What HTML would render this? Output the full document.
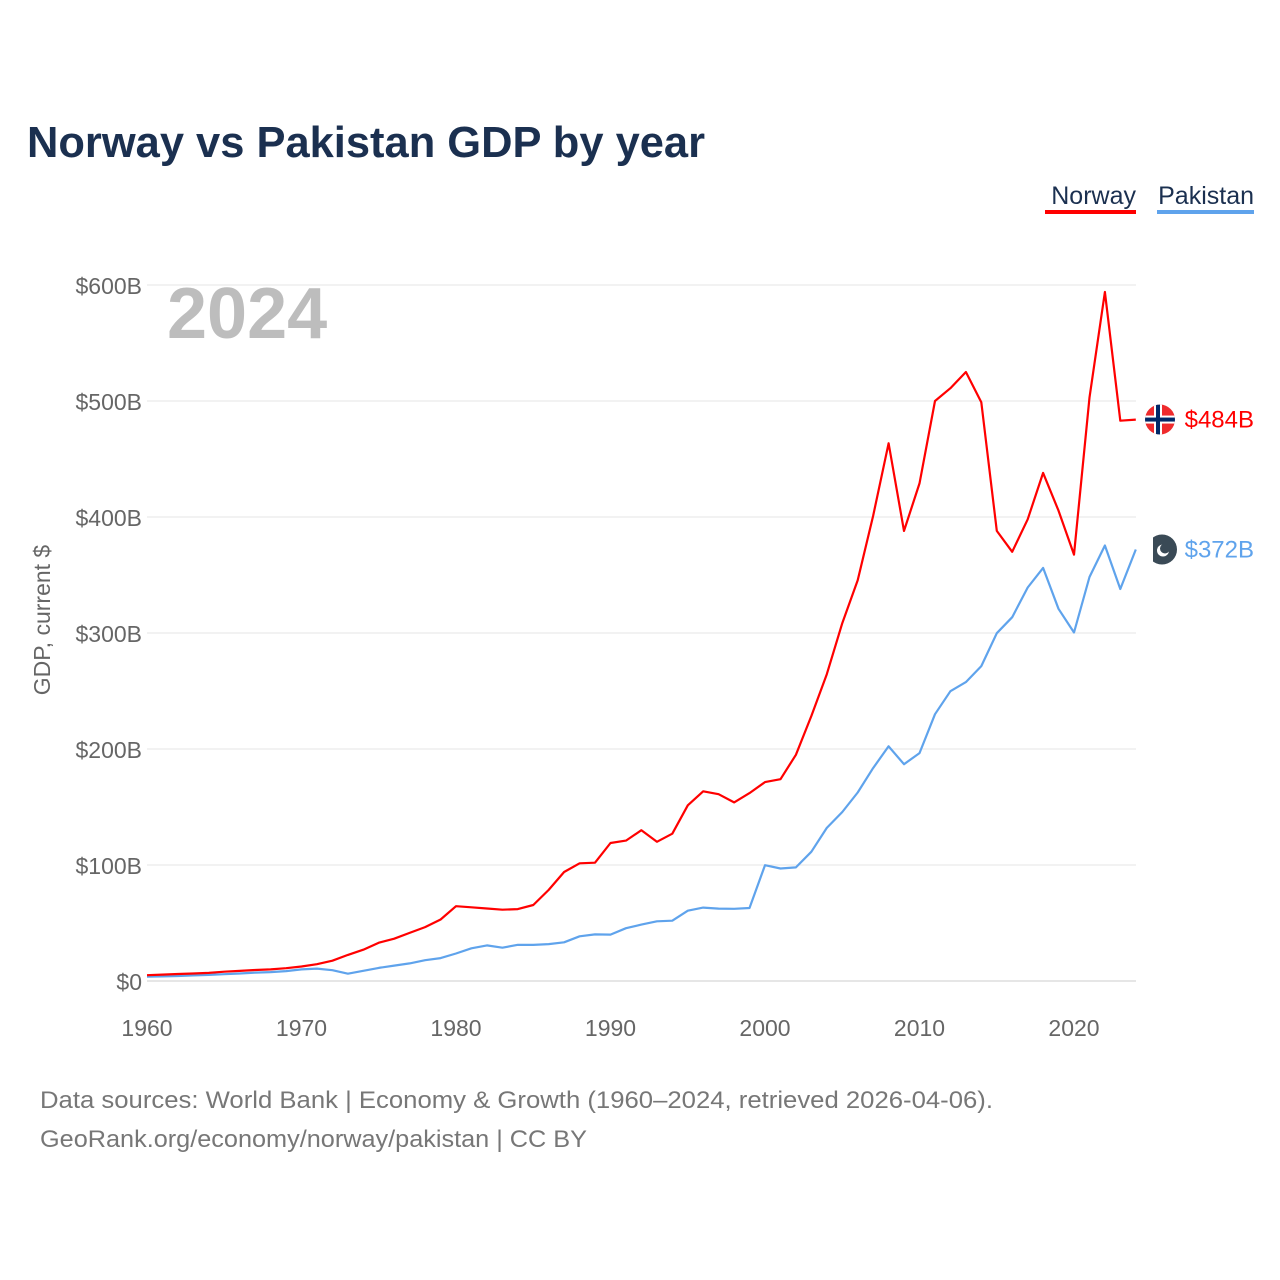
<!DOCTYPE html>
<html><head><meta charset="utf-8"><style>
body{margin:0;background:#fff;width:1280px;height:1280px;overflow:hidden;font-family:"Liberation Sans",sans-serif}
svg{position:absolute;left:0;top:0}
</style></head><body>
<svg id="chart" width="1280" height="1280">
<text x="27" y="157" font-size="44" font-weight="bold" fill="#1b3050" textLength="678" lengthAdjust="spacingAndGlyphs">Norway vs Pakistan GDP by year</text>
<g><text x="1136" y="204" text-anchor="end" font-size="25" fill="#1b3050">Norway</text><rect x="1045" y="210" width="91" height="4" fill="#ff0000"/></g>
<g><text x="1254" y="204" text-anchor="end" font-size="25" fill="#1b3050">Pakistan</text><rect x="1157" y="210" width="97" height="4" fill="#5fa3ec"/></g>
<text x="167" y="338" font-size="72" font-weight="bold" fill="#bdbdbd">2024</text>
<text transform="translate(50,620) rotate(-90)" text-anchor="middle" font-size="23" fill="#666">GDP, current $</text>
<g id="grid"></g><g id="series"></g>
<text x="40" y="1108" font-size="24" fill="#777" textLength="953" lengthAdjust="spacingAndGlyphs">Data sources: World Bank | Economy &amp; Growth (1960–2024, retrieved 2026-04-06).</text>
<text x="40" y="1147" font-size="24" fill="#777" textLength="547" lengthAdjust="spacingAndGlyphs">GeoRank.org/economy/norway/pakistan | CC BY</text>
</svg>
<script>
const years=[];for(let y=1960;y<=2024;y++)years.push(y);
const norway=[5,5.5,6,6.5,7,8,8.7,9.5,10,11,12.5,14.5,17.5,22.5,27,33,36.5,41.5,46.5,53,64.5,63.5,62.5,61.5,62,65.5,78.5,94,101.5,102,119,121,130,120,127,151.5,163.5,161,154,162,171.5,174,195,228.5,264.5,308.5,345.5,400.9,463.5,388,429,500,511,525,499,388,370,398,438,405.5,367.6,503,594,483,484];
const pakistan=[3.7,4,4.3,4.8,5.3,5.9,6.5,7.2,7.7,8.5,10,10.7,9.3,6.3,8.8,11.3,13.3,15.2,17.9,19.7,23.7,28.2,30.7,28.7,31.2,31.1,31.8,33.4,38.5,40.2,40,45.5,48.6,51.5,52,60.6,63.3,62.4,62.2,62.9,99.8,97,97.9,111.5,132,145.7,162.5,183.5,202.3,186.9,196.5,230,249.8,257.7,271.5,299.8,313.6,339.2,356.1,320.9,300.4,348.3,375.4,337.9,372];
const yTicks=[0,100,200,300,400,500,600];
const yLabels=["$0","$100B","$200B","$300B","$400B","$500B","$600B"];
const xTicks=[1960,1970,1980,1990,2000,2010,2020];
const NS="http://www.w3.org/2000/svg";
const xS=y=>147+(y-1960)*(1074-147)/60;
const yS=v=>981-v*(981-285)/600;
function mk(t,a,p){const e=document.createElementNS(NS,t);for(const k in a)e.setAttribute(k,a[k]);p.appendChild(e);return e;}
const grid=document.getElementById('grid');
yTicks.forEach((v,i)=>{
  const l=mk('line',{x1:147,x2:1136,y1:yS(v),y2:yS(v),stroke:v===0?'#ccc':'#e6e6e6','stroke-width':1},grid);
  
  
  const t=mk('text',{x:142,y:yS(v)+9,'text-anchor':'end','font-size':23,fill:'#666'},grid);
  t.textContent=yLabels[i];
  
  
});
xTicks.forEach(y=>{
  const t=mk('text',{x:xS(y),y:1036,'text-anchor':'middle','font-size':23,fill:'#666'},grid);
  t.textContent=y;
  
  
});
const s=document.getElementById('series');
function line(vals,col,name){
  const d=vals.map((v,i)=>(i?'L':'M')+xS(years[i]).toFixed(1)+','+yS(v).toFixed(1)).join('');
  const p=mk('path',{d:d,fill:'none',stroke:col,'stroke-width':2.2,'stroke-linejoin':'round'},s);
  
  
}
line(pakistan,'#5fa3ec','pakistan-line');
line(norway,'#ff0000','norway-line');
const nl=norway[norway.length-1], pl=pakistan[pakistan.length-1];
const nx=1160, ny=yS(nl), px=1162, py=yS(pl);
const nf=mk('g',{},s);


const cp=mk('clipPath',{id:'nc'},nf);mk('circle',{cx:nx,cy:ny,r:15},cp);
const gg=mk('g',{'clip-path':'url(#nc)'},nf);
mk('rect',{x:nx-15,y:ny-15,width:30,height:30,fill:'#ef2b2d'},gg);
mk('rect',{x:nx-15,y:ny-4,width:30,height:8,fill:'#fff'},gg);
mk('rect',{x:nx-6,y:ny-15,width:8,height:30,fill:'#fff'},gg);
mk('rect',{x:nx-15,y:ny-2,width:30,height:4,fill:'#002868'},gg);
mk('rect',{x:nx-4,y:ny-15,width:4,height:30,fill:'#002868'},gg);
const pf=mk('g',{},s);


mk('circle',{cx:px,cy:py,r:15,fill:'#3a4a56'},pf);
mk('rect',{x:px-15,y:py-15,width:6,height:30,fill:'#fff'},pf);
mk('circle',{cx:px+1,cy:py+1,r:6,fill:'#fff'},pf);
mk('circle',{cx:px+3,cy:py-1,r:5,fill:'#3a4a56'},pf);
const t1=mk('text',{x:1254,y:ny+8,'text-anchor':'end','font-size':24,fill:'#ff0000'},s);
t1.textContent='$'+Math.round(nl)+'B';


const t2=mk('text',{x:1254,y:py+8,'text-anchor':'end','font-size':24,fill:'#5fa3ec'},s);
t2.textContent='$'+Math.round(pl)+'B';


</script>
</body></html>
